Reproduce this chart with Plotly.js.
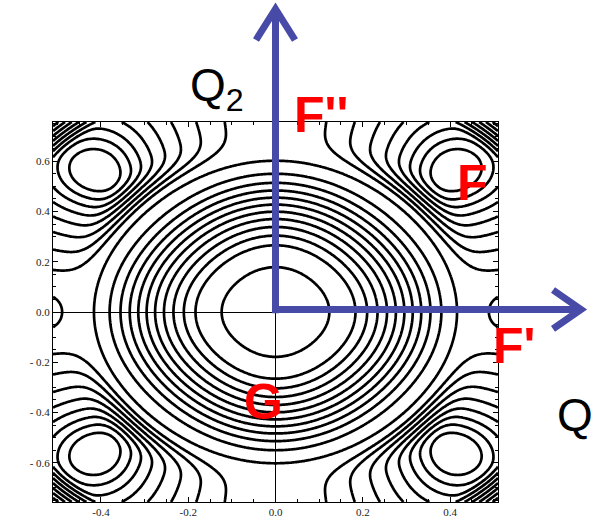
<!DOCTYPE html>
<html>
<head>
<meta charset="utf-8">
<script src="https://cdn.plot.ly/plotly-3.0.1.min.js"></script>
<style>
  html, body { margin: 0; padding: 0; background: #ffffff; }
  #chart { width: 596px; height: 518px; }
</style>
</head>
<body>
<div id="chart"></div>
<script>
// ---- stationary points of the (Q, Q2) energy surface ----
const basinG  = [0, 0];          // ground state G
const basinF  = [0.414, 0.56];   // F minima (one per quadrant, mirrored)
const basinFp = [0.528, 0];      // F' minima on the Q axis, just past the frame

// ---- basin depths / shape (energy in units of one contour step) ----
const plateauG = 14.3;           // height the G bowl levels off at
const curvG    = 5.0;            // G bowl curvature
const minF     = 5.3;            // energy of the F minima
const widthF   = 1.551;          // F basin: h = widthF * ln(1 + stiffF * r^3)
const stiffF   = 39.0;
const minFp    = 12.0;           // energy of the F' minima
const curvFp   = 41.5;

// ---- contour levels ----
const innerLevel = 1.45;         // innermost ring around G
const levelStart = 3.2;          // evenly spaced levels from here on
const levelStep  = 1;
const levelEnd   = 40.2;

// ---- axis ticks ----
const xTickVals = [-0.4, -0.2, 0.0, 0.2, 0.4];
const xTickText = ['-0.4', '-0.2', '0.0', '0.2', '0.4'];
const yTickVals = [-0.6, -0.4, -0.2, 0.0, 0.2, 0.4, 0.6];
const yTickText = ['- 0.6', '- 0.4', '- 0.2', '0.0', '0.2', '0.4', '0.6'];

const xRange = [-0.51, 0.51];
const yRange = [-0.756, 0.756];

// metric of the plane (Q2 is stiffer than Q)
const sQ = 4.363, sQ2 = 3.016, sQ2px = 2.513;

const pF = (basinF[0] - basinG[0]) * sQ, qF = (basinF[1] - basinG[1]) * sQ2;
const rhoF = Math.hypot(pF, qF);
const thF = Math.atan2(qF, pF);

function softplus(v, lam) { return lam * Math.log(1 + Math.exp(v / lam)); }

function energy(x, y) {
  const ax = Math.abs(x), ay = Math.abs(y);
  const p = ax * sQ, q = ay * sQ2;
  const w = p * p + q * q;
  // G bowl, a little stiffer along the diagonals, levelling off at the plateau
  const wG = w > 1e-12 ? w + 4 * 0.06 * p * p * q * q / w : 0;
  const t = curvG * wG / plateauG;
  const eG = plateauG * t / Math.pow(1 + Math.pow(t, 5), 0.2);
  // F basin, in polar coordinates around G
  const rho = Math.sqrt(w), th = Math.atan2(q, p);
  const dn = rho - rhoF;
  let dt = 1.08 * rhoF * (th - thF);
  if (dt < 0) dt *= 1.13;
  const d = -dn;
  const dnEff = dn >= 0 ? dn : d * Math.exp(2.82 * softplus(d - 0.28, 0.04));
  const r = Math.sqrt(dt * dt + dnEff * dnEff);
  const eF = minF + widthF * Math.log(1 + stiffF * r * r * r);
  // F' basin
  const px = (ax - basinFp[0]) * sQ, py = ay * sQ2px;
  const eFp = minFp + curvFp * (px * px + py * py);
  // smooth minimum of the basins
  const tau = 0.15;
  const m = Math.min(eG, eF, eFp);
  const e = m - tau * Math.log(Math.exp(-(eG - m) / tau) + Math.exp(-(eF - m) / tau) + Math.exp(-(eFp - m) / tau));
  // steep rise into the corners
  const c = ax * 436.3 + 1.2 * ay * 251.3;
  const wall = 0.12 * softplus(c - 405, 3);
  return e + wall;
}

const nx = 321, ny = 321;
const xs = [], ys = [];
for (let i = 0; i < nx; i++) xs.push(xRange[0] + (xRange[1] - xRange[0]) * i / (nx - 1));
for (let j = 0; j < ny; j++) ys.push(yRange[0] + (yRange[1] - yRange[0]) * j / (ny - 1));
const zs = ys.map(y => xs.map(x => energy(x, y)));

function contourTrace(start, end, size) {
  return {
    type: 'contour',
    x: xs, y: ys, z: zs,
    autocontour: false,
    contours: { coloring: 'lines', start: start, end: end, size: size, showlabels: false },
    colorscale: [[0, '#000000'], [1, '#000000']],
    showscale: false,
    line: { width: 2.7, smoothing: 1 },
    hoverinfo: 'skip'
  };
}

const arrowBlue = '#474aa6';
const redFont = { family: 'Liberation Sans, Arial, sans-serif', size: 50, color: '#ff0000', weight: 'bold' };
const blackFont = { family: 'Liberation Sans, Arial, sans-serif', size: 46, color: '#000000' };

function label(text, x, y, font) {
  return { text: text, x: x, y: y, xref: 'paper', yref: 'paper', showarrow: false, font: font,
           xanchor: 'center', yanchor: 'middle' };
}
const arrowLine = { color: arrowBlue, width: 7 };

const layout = {
  width: 596, height: 518,
  margin: { l: 53, r: 98, t: 122, b: 16 },
  paper_bgcolor: '#ffffff', plot_bgcolor: '#ffffff',
  showlegend: false,
  xaxis: {
    range: xRange, showgrid: false, zeroline: true, zerolinecolor: '#000', zerolinewidth: 1,
    showline: true, linecolor: '#000', linewidth: 1, mirror: 'allticks',
    ticks: 'inside', ticklen: 5, tickwidth: 1, tickcolor: '#000',
    tickvals: xTickVals, ticktext: xTickText,
    minor: { dtick: 0.05, ticks: 'inside', ticklen: 3, tickcolor: '#000', tickwidth: 1 },
    tickfont: { family: 'Liberation Serif, Times New Roman, serif', size: 11, color: '#222' }
  },
  yaxis: {
    range: yRange, showgrid: false, zeroline: true, zerolinecolor: '#000', zerolinewidth: 1,
    showline: true, linecolor: '#000', linewidth: 1, mirror: 'allticks',
    ticks: 'inside', ticklen: 5, tickwidth: 1, tickcolor: '#000',
    tickvals: yTickVals, ticktext: yTickText,
    minor: { dtick: 0.05, ticks: 'inside', ticklen: 3, tickcolor: '#000', tickwidth: 1 },
    tickfont: { family: 'Liberation Serif, Times New Roman, serif', size: 11, color: '#222' }
  },
  // Q2 and Q direction arrows
  shapes: [
    { type: 'line', xref: 'paper', yref: 'paper', x0: 0.5, y0: 0.497, x1: 0.5, y1: 1.2842, line: arrowLine, layer: 'above' },
    { type: 'path', xref: 'paper', yref: 'paper', path: 'M0.4562,1.2158 L0.5,1.2974 L0.5438,1.2158', line: arrowLine, layer: 'above' },
    { type: 'line', xref: 'paper', yref: 'paper', x0: 0.4921, y0: 0.5066, x1: 1.1753, y1: 0.5066, line: arrowLine, layer: 'above' },
    { type: 'path', xref: 'paper', yref: 'paper', path: 'M1.1236,0.5579 L1.1865,0.5066 L1.1236,0.4553', line: arrowLine, layer: 'above' }
  ],
  annotations: [
    label('Q<sub>2</sub>', 0.3685, 1.087, blackFont),
    label('Q', 1.173, 0.229, blackFont),
    label("F''", 0.602, 1.018, redFont),
    label('F', 0.9416, 0.8395, redFont),
    label("F'", 1.036, 0.41, redFont),
    label('G', 0.472, 0.263, redFont)
  ]
};

Plotly.newPlot('chart', [contourTrace(innerLevel, innerLevel, 1), contourTrace(levelStart, levelEnd, levelStep)],
               layout, { staticPlot: true, displayModeBar: false });
</script>
</body>
</html>
